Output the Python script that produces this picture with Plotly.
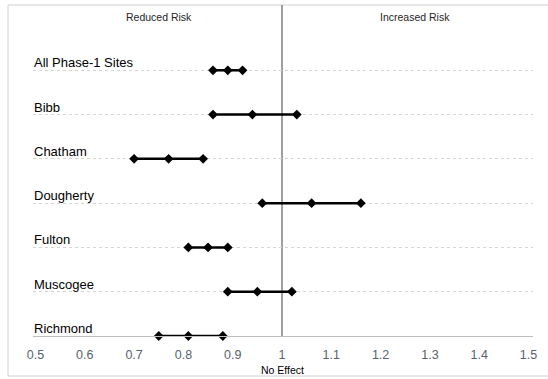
import plotly.graph_objects as go

sites = ["All Phase-1 Sites", "Bibb", "Chatham", "Dougherty", "Fulton", "Muscogee", "Richmond"]
lower = [0.86, 0.86, 0.70, 0.96, 0.81, 0.89, 0.75]
estimate = [0.89, 0.94, 0.77, 1.06, 0.85, 0.95, 0.81]
upper = [0.92, 1.03, 0.84, 1.16, 0.89, 1.02, 0.88]
x_ticks = [0.5, 0.6, 0.7, 0.8, 0.9, 1.0, 1.1, 1.2, 1.3, 1.4, 1.5]
x_tick_labels = ["0.5", "0.6", "0.7", "0.8", "0.9", "1", "1.1", "1.2", "1.3", "1.4", "1.5"]

n = len(sites)
ypos = [n - 1 - i for i in range(n)]

xs, ys = [], []
for lo, est, up, y in zip(lower, estimate, upper, ypos):
    xs += [lo, est, up, None]
    ys += [y, y, y, None]

fig = go.Figure()
fig.add_trace(go.Scatter(
    x=xs, y=ys, mode="lines+markers",
    line=dict(color="black", width=2.5),
    marker=dict(symbol="diamond", size=7.5, color="black"),
    hoverinfo="skip", showlegend=False, cliponaxis=False,
))

font_family = "Liberation Sans, Arial, sans-serif"
annotations = []
for s, y in zip(sites, ypos):
    annotations.append(dict(
        x=0.4985, y=y, xref="x", yref="y", text=s, showarrow=False,
        xanchor="left", yanchor="bottom", yshift=-2, xshift=-3,
        font=dict(family=font_family, size=13, color="black"),
    ))
annotations += [
    dict(x=0.75, y=(336 - 17) / 310, xref="x", yref="paper", text="Reduced Risk",
         showarrow=False, xanchor="center", yanchor="middle",
         font=dict(family=font_family, size=10.5, color="#262626")),
    dict(x=1.27, y=(336 - 17) / 310, xref="x", yref="paper", text="Increased Risk",
         showarrow=False, xanchor="center", yanchor="middle",
         font=dict(family=font_family, size=10.5, color="#262626")),
    dict(x=1.0, y=(336 - 370) / 310, xref="x", yref="paper", text="No Effect",
         showarrow=False, xanchor="center", yanchor="middle",
         font=dict(family=font_family, size=10.5, color="black")),
]

shapes = [
    # outer chart frame
    dict(type="rect", xref="paper", yref="paper",
         x0=(8 - 33) / 500, x1=(549 - 33) / 500,
         y0=(336 - 376) / 310, y1=(336 - 5) / 310,
         line=dict(color="#d0d0d0", width=1), layer="below"),
    # no-effect line
    dict(type="line", xref="x", yref="paper", x0=1.0, x1=1.0,
         y0=0, y1=(336 - 5) / 310,
         line=dict(color="#808080", width=1.5), layer="below"),
]

fig.update_layout(
    width=548, height=379,
    margin=dict(l=33, r=15, t=26, b=43, autoexpand=False),
    paper_bgcolor="white", plot_bgcolor="white",
    showlegend=False,
    annotations=annotations, shapes=shapes,
    xaxis=dict(
        range=[0.5 - 2.5 / 493, 1.5 + 4.5 / 493],
        tickmode="array", tickvals=x_ticks, ticktext=x_tick_labels,
        showgrid=False, zeroline=False, automargin=False,
        showline=True, linecolor="#bfbfbf", linewidth=1,
        ticks="outside", ticklen=7, tickcolor="rgba(0,0,0,0)",
        tickfont=dict(family=font_family, size=12.5, color="#595f6e"),
    ),
    yaxis=dict(
        range=[0, 7], tickmode="linear", tick0=0, dtick=1,
        showticklabels=False, showgrid=True, automargin=False,
        gridcolor="#d4d4d4", griddash="dot", gridwidth=1,
        zeroline=False, showline=False, ticks="",
    ),
)

fig.write_html(
    "out.html",
    config={"displayModeBar": False},
    post_script="document.body.style.margin='0';document.body.style.overflow='hidden';",
)
